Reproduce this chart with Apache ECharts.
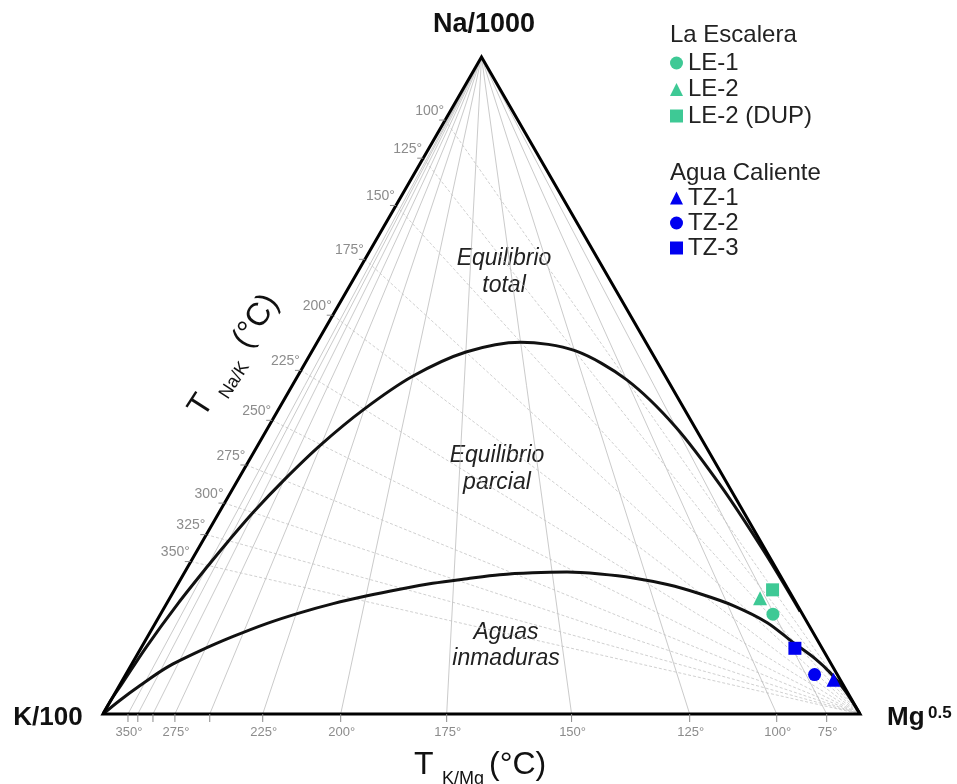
<!DOCTYPE html>
<html>
<head>
<meta charset="utf-8">
<script src="https://cdn.jsdelivr.net/npm/echarts@6/dist/echarts.min.js"></script>
<style>
  html, body { margin: 0; padding: 0; background: #fff; }
  #chart { width: 957px; height: 784px; }
</style>
</head>
<body>
<div id="chart"></div>
<script>
// Giggenbach Na–K–Mg ternary diagram.
// Compositions are percentages of [Na/1000, K/100, Mg^0.5].

// Water samples
const sampleNames = ['LE-1', 'LE-2', 'LE-2 (DUP)', 'TZ-1', 'TZ-2', 'TZ-3'];
const sampleNa = [15.2, 17.6, 18.9, 5.2, 6.0, 10.0];
const sampleK  = [3.9, 4.4, 2.1, 0.9, 3.0, 3.6];
const sampleMg = [80.9, 78.0, 79.0, 93.9, 91.0, 86.4];
const groupLaEscalera = ['LE-1', 'LE-2', 'LE-2 (DUP)'];
const groupAguaCaliente = ['TZ-1', 'TZ-2', 'TZ-3'];

// K/Mg isotherms: share of Mg^0.5 where each one meets the K–Mg side
const kMgTemps   = [350, 325, 300, 275, 250, 225, 200, 175, 150, 125, 100, 75];
const kMgMgShare = [3.3, 4.6, 6.6, 9.5, 14.1, 21.1, 31.4, 45.4, 61.9, 77.5, 89.0, 95.6];
const kMgLabeled = [350, 275, 225, 200, 175, 150, 125, 100, 75];

// Na/K isotherms: share of Na/1000 where each one meets the K–Na side
const naKTemps   = [100, 125, 150, 175, 200, 225, 250, 275, 300, 325, 350];
const naKNaShare = [90.4, 84.6, 77.4, 69.2, 60.7, 52.3, 44.7, 37.9, 32.1, 27.3, 23.2];

// Full equilibrium line [Na, K, Mg]
const fullEquilibrium = [
  [0, 100, 0], [2.2, 97.8, 0.0], [4.5, 95.3, 0.2], [10.0, 89.4, 0.6], [16.8, 81.7, 1.5],
  [22.6, 74.8, 2.6], [26.3, 70.3, 3.4], [30.7, 64.8, 4.5], [35.6, 58.3, 6.1], [41.0, 50.7, 8.3],
  [46.4, 42.3, 11.3], [51.4, 33.4, 15.2], [55.1, 24.5, 20.4], [56.6, 16.5, 26.9], [55.3, 10.0, 34.7],
  [50.9, 5.4, 43.7], [43.7, 2.5, 53.8], [34.5, 1.0, 64.5], [24.7, 0.3, 75.0], [15.6, 0.1, 84.3]
];

// Partial equilibrium (immature waters) line [Na, K, Mg]
const partialEquilibrium = [
  [0, 100, 0], [2.1, 96.7, 1.2], [4.3, 93.0, 2.7], [7.1, 88.0, 4.9], [9.6, 82.4, 8.0],
  [11.8, 76.9, 11.3], [13.8, 71.4, 14.8], [15.4, 66.3, 18.3], [16.8, 61.2, 22.0], [18.0, 56.1, 25.9],
  [19.0, 51.3, 29.7], [19.9, 46.5, 33.6], [20.6, 41.6, 37.8], [21.2, 37.0, 41.8], [21.5, 32.5, 46.0],
  [21.6, 27.9, 50.5], [21.3, 23.7, 55.0], [20.7, 19.6, 59.7], [19.7, 15.6, 64.7], [18.3, 12.0, 69.7],
  [16.5, 8.5, 75.0], [13.9, 5.3, 80.8], [10.9, 3.4, 85.7], [8.4, 1.7, 89.9], [6.3, 0.8, 92.9],
  [3.6, 0.2, 96.2], [0, 0, 100]
];

// ---- ternary -> cartesian (K at left, Mg at right, Na at top) ----
const H = Math.sqrt(3) / 2;
function toXY(na, k, mg) {
  const s = na + k + mg;
  return [(mg + na / 2) / s, (na / s) * H];
}

const FONT = '"Liberation Sans", Arial, Helvetica, sans-serif';
const GREEN = '#3ec995';
const BLUE = '#0000f0';
const TICK_TEXT = '#8c8c8c';

const sampleStyle = {
  'LE-1':       { symbol: 'circle',   size: 13, color: GREEN },
  'LE-2':       { symbol: 'triangle', size: 14, color: GREEN },
  'LE-2 (DUP)': { symbol: 'rect',     size: 13, color: GREEN },
  'TZ-1':       { symbol: 'triangle', size: 14, color: BLUE },
  'TZ-2':       { symbol: 'circle',   size: 13, color: BLUE },
  'TZ-3':       { symbol: 'rect',     size: 13, color: BLUE }
};

const apex = toXY(100, 0, 0);
const kCorner = toXY(0, 100, 0);
const mgCorner = toXY(0, 0, 100);

const kMgLines = kMgMgShare.map(mg => ({ coords: [apex, toXY(0, 100 - mg, mg)] }));
const naKLines = naKNaShare.map(na => ({ coords: [toXY(na, 100 - na, 0), mgCorner] }));

const series = [];

series.push({
  type: 'lines', coordinateSystem: 'cartesian2d', silent: true, z: 1,
  lineStyle: { color: '#bdbdbd', width: 0.8, opacity: 1, curveness: 0 },
  data: kMgLines
});
series.push({
  type: 'lines', coordinateSystem: 'cartesian2d', silent: true, z: 1,
  lineStyle: { color: '#c4c4c4', width: 0.8, opacity: 1, type: [3, 2], curveness: 0 },
  data: naKLines
});

series.push({
  type: 'line', name: 'fullEquilibrium', silent: true, clip: false, z: 3,
  symbol: 'none', smooth: 0.3,
  lineStyle: { color: '#111', width: 3 },
  data: fullEquilibrium.map(p => toXY(p[0], p[1], p[2]))
});
series.push({
  type: 'line', name: 'partialEquilibrium', silent: true, clip: false, z: 3,
  symbol: 'none', smooth: 0.3,
  lineStyle: { color: '#111', width: 3 },
  data: partialEquilibrium.map(p => toXY(p[0], p[1], p[2]))
});

// Triangle frame
series.push({
  type: 'custom', silent: true, clip: false, z: 4,
  data: [kCorner, apex, mgCorner],
  renderItem: (params, api) => {
    if (params.dataIndex !== 0) return null;
    const pts = [kCorner, apex, mgCorner].map(p => api.coord(p));
    return {
      type: 'polygon',
      shape: { points: pts },
      style: { fill: null, stroke: '#000', lineWidth: 3, lineJoin: 'miter' }
    };
  }
});

// K/Mg temperature ticks along the base
series.push({
  type: 'custom', silent: true, clip: false, z: 4,
  data: kMgMgShare.map((mg, i) => toXY(0, 100 - mg, mg).concat([i])),
  renderItem: (params, api) => {
    const p = api.coord([api.value(0), api.value(1)]);
    const t = kMgTemps[api.value(2)];
    const children = [{
      type: 'line',
      shape: { x1: p[0], y1: p[1], x2: p[0], y2: p[1] + 8 },
      style: { stroke: '#8a8a8a', lineWidth: 1 }
    }];
    if (kMgLabeled.indexOf(t) >= 0) {
      children.push({
        type: 'text', x: p[0] + 1, y: p[1] + 12,
        style: { text: t + '°', fill: TICK_TEXT, fontSize: 13, fontFamily: FONT, align: 'center', verticalAlign: 'top' }
      });
    }
    return { type: 'group', children };
  }
});

// Na/K temperature ticks along the left side
series.push({
  type: 'custom', silent: true, clip: false, z: 4,
  data: naKNaShare.map((na, i) => toXY(na, 100 - na, 0).concat([i])),
  renderItem: (params, api) => {
    const p = api.coord([api.value(0), api.value(1)]);
    const t = naKTemps[api.value(2)];
    return {
      type: 'group',
      children: [{
        type: 'line',
        shape: { x1: p[0], y1: p[1], x2: p[0] - 6, y2: p[1] },
        style: { stroke: '#8a8a8a', lineWidth: 1 }
      }, {
        type: 'text', x: p[0] - 1, y: p[1] - 9,
        style: { text: t + '°', fill: TICK_TEXT, fontSize: 14, fontFamily: FONT, align: 'right', verticalAlign: 'middle' }
      }]
    };
  }
});

// Samples
sampleNames.forEach((name, i) => {
  const st = sampleStyle[name];
  series.push({
    type: 'scatter', name, z: 6, clip: false,
    symbol: st.symbol, symbolSize: st.size,
    itemStyle: { color: st.color, opacity: 1 },
    data: [toXY(sampleNa[i], sampleK[i], sampleMg[i])]
  });
});

const legendCommon = {
  orient: 'vertical', left: 670, padding: 0, itemWidth: 13, itemHeight: 13,
  selectedMode: false,
  textStyle: { fontSize: 24, color: '#222', fontFamily: FONT }
};

const DEG = Math.PI / 180;
const titleAngle = 57 * DEG;

const option = {
  animation: false,
  backgroundColor: '#fff',
  textStyle: { fontFamily: FONT },
  grid: { left: 103, top: 57, width: 757, height: 657, containLabel: false },
  xAxis: { type: 'value', min: 0, max: 1, show: false },
  yAxis: { type: 'value', min: 0, max: H, show: false },
  legend: [
    Object.assign({}, legendCommon, { top: 51, itemGap: 2.5, data: groupLaEscalera }),
    Object.assign({}, legendCommon, { top: 186, itemGap: 1, data: groupAguaCaliente })
  ],
  graphic: [
    { type: 'text', x: 484, y: 25, style: { text: 'Na/1000', fill: '#111', font: 'bold 27px ' + FONT, align: 'center', verticalAlign: 'middle' } },
    { type: 'text', x: 48, y: 718, style: { text: 'K/100', fill: '#111', font: 'bold 26px ' + FONT, align: 'center', verticalAlign: 'middle' } },
    { type: 'text', x: 887, y: 718, style: { text: 'Mg', fill: '#111', font: 'bold 26px ' + FONT, align: 'left', verticalAlign: 'middle' } },
    { type: 'text', x: 928, y: 713, style: { text: '0.5', fill: '#111', font: 'bold 17px ' + FONT, align: 'left', verticalAlign: 'middle' } },

    { type: 'text', x: 670, y: 35, style: { text: 'La Escalera', fill: '#222', font: '24px ' + FONT, align: 'left', verticalAlign: 'middle' } },
    { type: 'text', x: 670, y: 173, style: { text: 'Agua Caliente', fill: '#222', font: '24px ' + FONT, align: 'left', verticalAlign: 'middle' } },

    { type: 'text', x: 504, y: 272, style: { text: 'Equilibrio\ntotal', fill: '#222', font: 'italic 23px ' + FONT, lineHeight: 27, align: 'center', verticalAlign: 'middle' } },
    { type: 'text', x: 497, y: 469, style: { text: 'Equilibrio\nparcial', fill: '#222', font: 'italic 23px ' + FONT, lineHeight: 27, align: 'center', verticalAlign: 'middle' } },
    { type: 'text', x: 506, y: 646, style: { text: 'Aguas\ninmaduras', fill: '#222', font: 'italic 23px ' + FONT, lineHeight: 26, align: 'center', verticalAlign: 'middle' } },

    // T K/Mg (°C)
    { type: 'text', x: 414, y: 765, style: { text: 'T', fill: '#111', font: '32px ' + FONT, align: 'left', verticalAlign: 'middle' } },
    { type: 'text', x: 442, y: 779, style: { text: 'K/Mg', fill: '#111', font: '18px ' + FONT, align: 'left', verticalAlign: 'middle' } },
    { type: 'text', x: 489, y: 765, style: { text: '(°C)', fill: '#111', font: '32px ' + FONT, align: 'left', verticalAlign: 'middle' } },

    // T Na/K (°C), along the K–Na side
    {
      type: 'group', x: 196, y: 414, rotation: titleAngle,
      children: [
        { type: 'text', x: 0, y: 0, style: { text: 'T', fill: '#111', font: '32px ' + FONT, align: 'left', verticalAlign: 'middle' } },
        { type: 'text', x: 29, y: 14, style: { text: 'Na/K', fill: '#111', font: '18px ' + FONT, align: 'left', verticalAlign: 'middle' } },
        { type: 'text', x: 82, y: 0, style: { text: '(°C)', fill: '#111', font: '32px ' + FONT, align: 'left', verticalAlign: 'middle' } }
      ]
    }
  ],
  series
};

const chart = echarts.init(document.getElementById('chart'), null, { renderer: 'canvas' });
chart.setOption(option);
</script>
</body>
</html>
